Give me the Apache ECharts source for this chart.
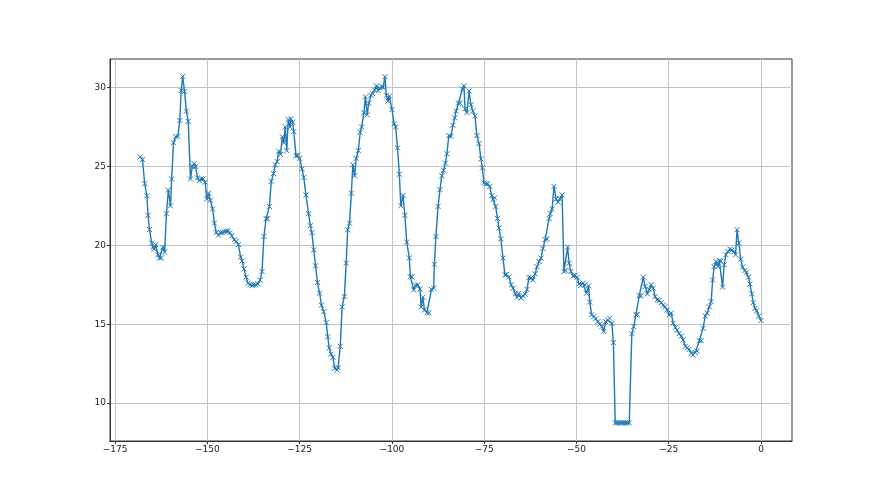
<!DOCTYPE html>
<html>
<head>
<meta charset="utf-8">
<script src="https://cdn.jsdelivr.net/npm/echarts@6/dist/echarts.min.js"></script>
<style>
  html, body { margin: 0; padding: 0; background: #fff; }
  #chart { width: 880px; height: 495px; }
</style>
</head>
<body>
<div id="chart"></div>
<script>
  // x positions
  var xs = [
    -168.2, -167.6, -167.0, -166.4, -166.1, -165.7, -165.1, -164.7, -164.5, -164.0,
    -163.4, -163.0, -162.5, -162.1, -161.6, -161.1, -160.6, -160.0, -159.7, -159.2,
    -158.6, -158.0, -157.5, -157.1, -156.7, -156.2, -155.7, -155.2, -154.6, -154.1,
    -153.6, -153.2, -152.7, -152.2, -151.7, -151.2, -150.6, -150.2, -149.7, -149.2,
    -148.6, -148.1, -147.6, -147.0, -146.5, -146.0, -145.4, -144.9, -144.4, -143.9,
    -143.4, -142.7, -142.2, -141.6, -141.0, -140.6, -140.1, -139.5, -139.0, -138.5,
    -137.9, -137.5, -136.9, -136.3, -135.7, -135.2, -134.7, -134.1, -133.7, -133.2,
    -132.7, -132.1, -131.6, -131.1, -130.7, -130.2, -129.7, -129.3, -128.9, -128.5,
    -128.1, -127.6, -127.4, -126.9, -126.6, -126.0, -125.5, -125.0, -124.4, -123.9,
    -123.3, -122.6, -122.1, -121.7, -121.2, -120.7, -120.2, -119.6, -119.1, -118.5,
    -117.8, -117.4, -117.0, -116.5, -116.0, -115.5, -114.9, -114.6, -114.0, -113.5,
    -112.9, -112.4, -112.0, -111.5, -111.0, -110.6, -110.1, -109.7, -109.1, -108.6,
    -108.2, -107.6, -107.2, -106.7, -106.3, -105.7, -105.2, -104.7, -104.2, -103.7,
    -103.3, -102.8, -102.4, -101.9, -101.5, -101.1, -100.7, -100.0, -99.4, -99.0,
    -98.5, -98.0, -97.6, -97.0, -96.5, -96.0, -95.3, -95.0, -94.6, -94.1,
    -93.6, -93.0, -92.4, -92.1, -91.6, -91.2, -90.5, -90.0, -89.3, -88.7,
    -88.5, -88.1, -87.5, -87.0, -86.5, -86.0, -85.5, -85.1, -84.6, -84.0,
    -83.5, -83.0, -82.6, -82.0, -81.5, -80.9, -80.5, -80.2, -79.7, -79.1,
    -78.6, -78.1, -77.5, -77.0, -76.4, -75.9, -75.5, -75.1, -74.6, -74.1,
    -73.5, -73.0, -72.6, -72.2, -71.9, -71.4, -71.0, -70.5, -69.9, -69.4,
    -68.9, -68.3, -67.7, -67.2, -66.5, -66.1, -65.7, -65.0, -64.5, -63.9,
    -63.4, -62.9, -62.3, -61.8, -61.2, -60.7, -60.1, -59.6, -59.1, -58.5,
    -58.0, -57.4, -57.1, -56.6, -56.1, -55.5, -55.0, -54.5, -53.9, -53.4,
    -52.9, -52.4, -52.0, -51.5, -50.9, -50.4, -49.8, -49.3, -48.8, -48.2,
    -47.7, -47.3, -46.7, -46.4, -45.9, -45.3, -44.8, -44.2, -43.7, -43.1,
    -42.6, -42.1, -41.5, -41.0, -40.4, -40.0, -39.5, -39.0, -38.4, -37.9,
    -37.4, -36.8, -36.3, -35.7, -35.0, -34.5, -33.9, -33.5, -33.0, -32.5,
    -31.9, -31.4, -30.8, -30.3, -29.8, -29.2, -28.7, -28.1, -27.6, -27.0,
    -26.5, -26.0, -25.4, -24.9, -24.3, -23.8, -23.2, -22.7, -22.2, -21.6,
    -21.1, -20.5, -20.0, -19.5, -18.9, -18.4, -17.8, -17.3, -16.7, -16.2,
    -15.7, -15.1, -14.6, -14.0, -13.5, -13.1, -12.7, -12.2, -11.7, -11.3,
    -10.9, -10.4, -10.0, -9.5, -9.0, -8.4, -7.9, -7.3, -6.9, -6.5,
    -6.0, -5.5, -5.0, -4.4, -3.9, -3.4, -3.0, -2.5, -2.1, -1.6,
    -1.2, -0.6, 0
  ];
  var ys = [
    25.6, 25.43, 23.9, 23.14, 21.9, 21.0, 20.14, 19.88, 19.75, 20.03,
    19.4, 19.19, 19.2, 19.88, 19.57, 22.0, 23.5, 22.5, 24.2, 26.5,
    26.87, 26.9, 27.9, 29.8, 30.7, 29.75, 28.5, 27.85, 24.2, 25.0,
    25.17, 25.0, 24.27, 24.1, 24.2, 24.2, 24.0, 22.93, 23.3, 22.85,
    22.3, 21.4, 20.8, 20.65, 20.8, 20.8, 20.85, 20.9, 20.9, 20.8,
    20.6, 20.35, 20.25, 20.05, 19.25, 19.0, 18.5, 17.98, 17.6, 17.5,
    17.45, 17.5, 17.5, 17.55, 17.8, 18.34, 20.56, 21.68, 21.7, 22.46,
    24.05, 24.54, 25.1, 25.3, 25.96, 25.75, 26.87, 26.5, 27.5, 26.0,
    27.97, 27.5, 28.0, 27.8, 27.2, 25.68, 25.7, 25.5, 24.84, 24.3,
    23.19, 22.0, 21.24, 20.8, 19.71, 18.7, 17.64, 16.96, 16.2, 15.8,
    15.1, 14.2, 13.5, 13.1, 12.9, 12.2, 12.1, 12.25, 13.6, 16.1,
    16.75, 18.87, 20.98, 21.4, 23.3, 25.1, 24.4, 25.5, 26.0, 27.16,
    27.5, 28.4, 29.4, 28.27, 29.0, 29.5, 29.6, 29.83, 30.1, 29.8,
    29.96, 30.04, 30.0, 30.68, 29.5, 29.13, 29.45, 28.6, 27.7, 27.5,
    26.17, 24.5, 22.5, 23.16, 21.9, 20.2, 19.2, 18.0, 18.0, 17.17,
    17.47, 17.49, 17.22, 16.1, 16.7, 15.9, 15.73, 15.7, 17.2, 17.28,
    18.8, 20.56, 22.46, 23.52, 24.4, 24.75, 25.2, 25.8, 26.95, 26.9,
    27.6, 28.07, 28.5, 29.0, 29.0, 29.9, 30.1, 28.65, 28.4, 29.77,
    28.9, 28.5, 28.2, 26.95, 26.44, 25.47, 24.9, 23.95, 23.9, 23.9,
    23.73, 23.14, 22.9, 23.0, 22.46, 21.7, 21.1, 20.4, 19.19, 18.13,
    18.15, 18.0, 17.5, 17.28, 16.92, 16.7, 16.95, 16.65, 16.8, 16.9,
    17.2, 17.96, 17.93, 17.8, 18.19, 18.65, 18.97, 19.19, 19.8, 20.35,
    20.4, 21.7, 22.0, 22.3, 23.73, 22.93, 22.72, 22.95, 23.19, 18.34,
    18.4, 19.88, 18.87, 18.34, 18.06, 18.1, 17.97, 17.55, 17.45, 17.6,
    17.5, 16.96, 17.43, 16.4, 15.6, 15.48, 15.35, 15.16, 15.0, 14.85,
    14.53, 15.16, 15.26, 15.37, 15.05, 13.83, 8.75, 8.75, 8.75, 8.75,
    8.75, 8.75, 8.75, 8.75, 14.4, 14.85, 15.59, 15.6, 16.8, 16.8,
    17.98, 17.38, 16.92, 17.2, 17.5, 17.28, 16.75, 16.55, 16.5, 16.37,
    16.2, 16.1, 15.9, 15.59, 15.7, 15.06, 14.8, 14.63, 14.4, 14.25,
    14.0, 13.6, 13.5, 13.4, 13.15, 13.05, 13.2, 13.3, 13.95, 13.95,
    14.74, 15.52, 15.7, 16.1, 16.43, 17.8, 18.65, 18.97, 18.65, 19.03,
    19.0, 17.35, 18.76, 19.4, 19.61, 19.75, 19.7, 19.6, 19.4, 20.98,
    20.14, 19.12, 18.62, 18.4, 18.3, 17.98, 17.55, 16.92, 16.37, 16.0,
    15.85, 15.52, 15.23
  ];
  var xTicks = [-175, -150, -125, -100, -75, -50, -25, 0];
  var yTicks = [10, 15, 20, 25, 30];

  var points = xs.map(function (x, i) {
    return [x, ys[i]];
  });

  var minus = function (v) {
    return String(v).replace('-', '\u2212');
  };

  var myChart = echarts.init(document.getElementById('chart'));

  var option = {
    backgroundColor: '#fff',
    animation: false,
    grid: {
      left: 110,
      right: 88,
      top: 59,
      bottom: 54,
      show: true,
      borderColor: '#333',
      borderWidth: 1
    },
    xAxis: {
      type: 'value',
      min: -176.4,
      max: 8.4,
      axisLine: { show: true, onZero: false, lineStyle: { color: '#333', width: 1 } },
      axisTick: {
        show: true,
        inside: false,
        length: 3,
        customValues: xTicks,
        lineStyle: { color: '#333' }
      },
      axisLabel: {
        customValues: xTicks,
        formatter: minus,
        color: '#222',
        fontSize: 9,
        fontFamily: 'DejaVu Sans',
        margin: 4
      },
      splitLine: { show: true, lineStyle: { color: '#c4c4c4', width: 1 } }
    },
    yAxis: {
      type: 'value',
      min: 7.6,
      max: 31.8,
      axisLine: { show: true, onZero: false, lineStyle: { color: '#333', width: 1 } },
      axisTick: {
        show: true,
        inside: false,
        length: 3,
        customValues: yTicks,
        lineStyle: { color: '#333' }
      },
      axisLabel: {
        customValues: yTicks,
        formatter: minus,
        color: '#222',
        fontSize: 9,
        fontFamily: 'DejaVu Sans',
        margin: 4
      },
      splitLine: { show: true, lineStyle: { color: '#c4c4c4', width: 1 } }
    },
    series: [
      {
        type: 'line',
        data: points,
        showSymbol: true,
        showAllSymbol: true,
        symbol: 'path://M0,0L10,10M10,0L0,10',
        symbolSize: 5,
        itemStyle: {
          color: '#1f77b4',
          borderColor: '#1f77b4',
          borderWidth: 1
        },
        lineStyle: { color: '#1f77b4', width: 1.4 }
      }
    ]
  };

  option && myChart.setOption(option);
</script>
</body>
</html>
